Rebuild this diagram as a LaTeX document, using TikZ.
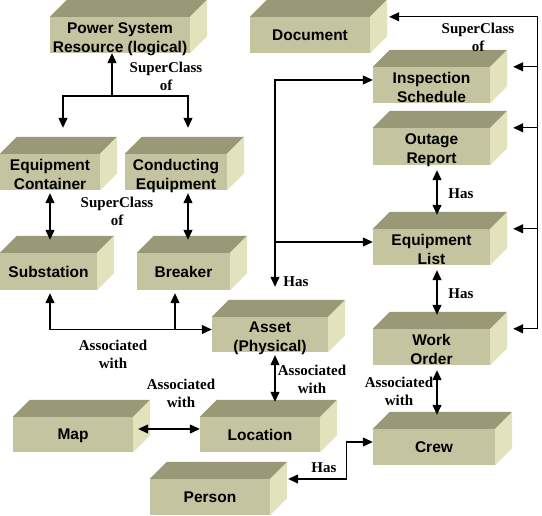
\documentclass[tikz,border=0pt]{standalone}
\usepackage{fontspec}
\setmainfont{Liberation Sans}
\newfontfamily\labelfont{Liberation Serif}
\usetikzlibrary{arrows.meta, calc}
\definecolor{frontcol}{HTML}{C4C4A0}
\definecolor{topcol}{HTML}{999977}
\definecolor{sidecol}{HTML}{E2E2BD}
\tikzstyle{block} = [rectangle, fill=frontcol, align=center, inner sep=0pt,
    minimum height=36pt, text depth=0pt, font=\fontsize{15.5}{19}\selectfont\bfseries]
\tikzstyle{twoline} = [text height=35pt]
\tikzstyle{lbl} = [align=center, font=\labelfont\fontsize{15}{18}\selectfont\bfseries]
\tikzstyle{arrow} = [draw, line width=1.2pt, -{Triangle[length=10pt,width=9pt]}]
\tikzstyle{arrow2} = [draw, line width=1.2pt,
    {Triangle[length=10pt,width=9pt]}-{Triangle[length=10pt,width=9pt]}]

\begin{document}
\begin{tikzpicture}[x=1pt, y=-1pt]
    \useasboundingbox (0,0) rectangle (542,516);

    % Nodes
    \node [block, twoline, minimum width=140pt] (psr) at (120,35) {Power System\\Resource (logical)};
    \node [block, minimum width=120pt] (doc) at (310,35) {Document};
    \node [block, twoline, minimum width=117pt] (insp) at (431.5,85) {Inspection\\Schedule};
    \node [block, twoline, minimum width=117pt, minimum height=37pt] (outage) at (431.5,146.5) {Outage\\Report};
    \node [block, twoline, minimum width=117pt] (eqlist) at (431.5,247) {Equipment\\List};
    \node [block, twoline, minimum width=117pt] (work) at (431.5,347) {Work\\Order};
    \node [block, minimum width=122pt] (crew) at (434,447) {Crew};
    \node [block, twoline, minimum width=100pt] (eqcont) at (50,172) {Equipment\\Container};
    \node [block, twoline, minimum width=102pt] (conduct) at (176,172) {Conducting\\Equipment};
    \node [block, minimum width=97pt, minimum height=37pt] (subst) at (48.5,271.5) {Substation};
    \node [block, minimum width=93pt, minimum height=37pt] (breaker) at (183.5,271.5) {Breaker};
    \node [block, twoline, minimum width=116pt, minimum height=35pt] (asset) at (270,334.5) {Asset\\(Physical)};
    \node [block, minimum width=120pt, minimum height=35pt] (location) at (260,434.5) {Location};
    \node [block, minimum width=120pt, minimum height=35pt] (map) at (73,434.5) {Map};
    \node [block, minimum width=120pt] (person) at (210,497) {Person};

    % Top and side faces of the blocks
    \foreach \n in {psr, doc, insp, outage, eqlist, work, crew, eqcont, conduct,
                    subst, breaker, asset, location, map, person} {
        \fill [topcol] (\n.north west) -- ++(17,-17) -- ($(\n.north east)+(17,-17)$)
            -- (\n.north east) -- cycle;
        \fill [sidecol] (\n.north east) -- ++(17,-17) -- ($(\n.south east)+(17,-17)$)
            -- (\n.south east) -- cycle;
    }

    % SuperClass of (power system resource)
    \coordinate (sc) at (112,96);
    \draw [arrow] (sc) -- (psr.south -| sc);
    \draw [arrow] (sc) -| ($(eqcont.north)+(13,-26)$);
    \draw [arrow] (sc) -| ($(conduct.north)+(12,-26)$);
    \node [lbl] (lsc1) at (166,76) {SuperClass\\of};

    \draw [arrow2] ($(eqcont.south)+(0,3)$) -- ($(subst.north)+(1.5,-13)$);
    \draw [arrow2] ($(conduct.south)+(12,3)$) -- ($(breaker.north)+(4.5,-13)$);
    \node [lbl] (lsc2) at (117,211) {SuperClass\\of};

    % Associated with (asset)
    \draw [arrow2] ($(subst.south)+(1.5,3)$) |- ($(asset.west)+(0,-5)$);
    \draw [arrow] ($(breaker.south)+(-8.5,40)$) -- ($(breaker.south)+(-8.5,3)$);
    \node [lbl] (law1) at (113,354) {Associated\\with};

    % SuperClass of (document)
    \draw [arrow2] ($(work.north east)+(23,0)$) -- ($(work.north east)+(47,0)$)
        -- ($(doc.north east)+(167,0)$) -- ($(doc.north east)+(19,0)$);
    \draw [arrow] ($(insp.north east)+(47,0)$) -- ($(insp.north east)+(23,0)$);
    \draw [arrow] ($(outage.north east)+(47,0)$) -- ($(outage.north east)+(23,0)$);
    \draw [arrow] ($(eqlist.north east)+(47,0)$) -- ($(eqlist.north east)+(23,0)$);
    \node [lbl] (lsc3) at (478,37) {SuperClass\\of};

    % Has
    \draw [arrow2] ($(asset.north)+(5,-30)$) |- ($(insp.west)+(0,-5)$);
    \draw [arrow] ($(eqlist.west)+(-98,-5)$) -- ($(eqlist.west)+(0,-5)$);
    \node [lbl] (lhas1) at (296,282) {Has};

    \draw [arrow2] ($(outage.south)+(5.5,5)$) -- ($(eqlist.north)+(5.5,-14)$);
    \node [lbl] (lhas2) at (461,194) {Has};
    \draw [arrow2] ($(eqlist.south)+(5.5,5)$) -- ($(work.north)+(5.5,-14)$);
    \node [lbl] (lhas3) at (461,294) {Has};

    \draw [arrow2] ($(work.south)+(5.5,5)$) -- ($(crew.north)+(3,-14)$);
    \node [lbl] (law2) at (399,391) {Associated\\with};

    \draw [arrow2] ($(asset.south)+(5,3)$) -- ($(location.north)+(15,-15)$);
    \node [lbl] (law3) at (312,379) {Associated\\with};

    \draw [arrow2] ($(map.east)+(5,-5.5)$) -- ($(location.west)+(0,-5.5)$);
    \node [lbl] (law4) at (181,393) {Associated\\with};

    \draw [arrow2] ($(person.east)+(18,-18)$) -| ($(crew.west)+(-26,-5)$)
        -- ($(crew.west)+(0,-5)$);
    \node [lbl] (lhas4) at (324,468) {Has};

\end{tikzpicture}
\end{document}
